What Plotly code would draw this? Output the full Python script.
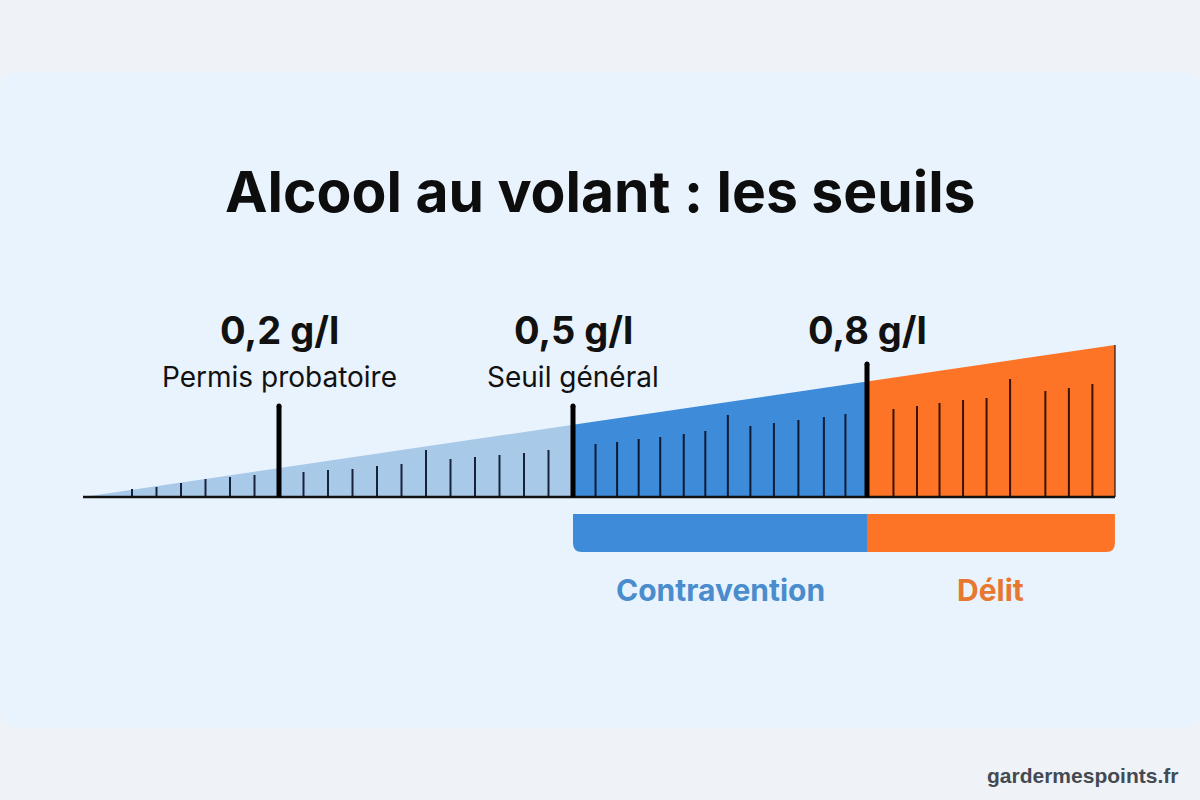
import plotly.graph_objects as go

# ---------------- data ----------------
title_text = "Alcool au volant : les seuils"
thresholds = [0.2, 0.5, 0.8]                       # g/l
threshold_labels = ["0,2 g/l", "0,5 g/l", "0,8 g/l"]
threshold_subtitles = ["Permis probatoire", "Seuil général", ""]
threshold_heights = [91, 91, 133]                 # marker height (scale units)

scale_start = 0.0
scale_end = 1.053                                  # end of the wedge (g/l)
wedge_end_height = 152                             # height of the wedge at its end

zone_bounds = [0.0, 0.5, 0.8, 1.053]
zone_colors = ["#a9c9e9", "#3d8bd9", "#fd7426"]

minor_ticks_light = [0.05, 0.075, 0.1, 0.125, 0.15, 0.175,
                     0.225, 0.25, 0.275, 0.3, 0.325, 0.35, 0.375, 0.4, 0.425, 0.45, 0.475]
minor_heights_light = [8, 10, 14, 18, 20, 22,
                       25, 27, 28, 31, 33, 47, 38, 40, 42, 44, 47]
minor_ticks_blue = [0.523, 0.545, 0.567, 0.589, 0.613, 0.635, 0.658, 0.681, 0.705, 0.730, 0.756, 0.778]
minor_heights_blue = [53, 55, 58, 60, 63, 66, 82, 71, 74, 77, 80, 83]
minor_ticks_orange = [0.827, 0.851, 0.874, 0.898, 0.922, 0.946, 0.982, 1.006, 1.030]
minor_heights_orange = [88, 91, 94, 97, 99, 118, 106, 109, 113]

categories = ["Contravention", "Délit"]
category_ranges = [(0.5, 0.8), (0.8, 1.053)]
category_colors = ["#3d8bd9", "#fd7426"]
category_text_colors = ["#4a8ccc", "#e8772f"]

watermark = "gardermespoints.fr"

# ---------------- figure ----------------
fig = go.Figure()

# wedge zones
for i in range(len(zone_bounds) - 1):
    x0, x1 = zone_bounds[i], zone_bounds[i + 1]
    h0 = wedge_end_height * (x0 - scale_start) / (scale_end - scale_start)
    h1 = wedge_end_height * (x1 - scale_start) / (scale_end - scale_start)
    fig.add_trace(go.Scatter(x=[x0, x1, x1, x0, x0], y=[0, 0, h1, h0, 0],
                             fill="toself", fillcolor=zone_colors[i],
                             line=dict(width=0), mode="lines", hoverinfo="skip"))

# right edge of the wedge
fig.add_trace(go.Scatter(x=[scale_end, scale_end], y=[0, wedge_end_height], mode="lines",
                         line=dict(color="#5a2a10", width=1.5), hoverinfo="skip"))


def tick_trace(xs, hs, color):
    X, Y = [], []
    for x, h in zip(xs, hs):
        X += [x, x, None]
        Y += [0, h, None]
    return go.Scatter(x=X, y=Y, mode="lines", line=dict(color=color, width=2), hoverinfo="skip")


fig.add_trace(tick_trace(minor_ticks_light, minor_heights_light, "#16223a"))
fig.add_trace(tick_trace(minor_ticks_blue, minor_heights_blue, "#0c1a36"))
fig.add_trace(tick_trace(minor_ticks_orange, minor_heights_orange, "#3a1306"))

# baseline
fig.add_trace(go.Scatter(x=[scale_start, scale_end], y=[0, 0], mode="lines",
                         line=dict(color="#111111", width=2.5), hoverinfo="skip"))

# threshold markers
for t, h in zip(thresholds, threshold_heights):
    fig.add_trace(go.Scatter(x=[t, t], y=[0, h], mode="lines",
                             line=dict(color="#000000", width=5), hoverinfo="skip"))
    fig.add_trace(go.Scatter(x=[t], y=[h], mode="markers",
                             marker=dict(color="#000000", size=5), hoverinfo="skip"))

# threshold labels
for t, lab, sub in zip(thresholds, threshold_labels, threshold_subtitles):
    fig.add_annotation(x=t, y=167, text="<b>" + lab + "</b>", showarrow=False,
                       font=dict(family="Inter", size=38, color="#111111"),
                       xanchor="center", yanchor="middle")
    if sub:
        fig.add_annotation(x=t, y=120, text=sub, showarrow=False,
                           font=dict(family="Inter", size=28, color="#111111"),
                           xanchor="center", yanchor="middle")

# category bars (rounded bottom outer corners)
shapes = []
bar_top, bar_bot = -17, -55
rx, ry = 0.009, 9
for k, ((a, b), col) in enumerate(zip(category_ranges, category_colors)):
    if k == 0:
        path = (f"M {a},{bar_top} L {b},{bar_top} L {b},{bar_bot} L {a + rx},{bar_bot} "
                f"Q {a},{bar_bot} {a},{bar_bot + ry} Z")
    else:
        path = (f"M {a},{bar_top} L {b},{bar_top} L {b},{bar_bot + ry} "
                f"Q {b},{bar_bot} {b - rx},{bar_bot} L {a},{bar_bot} Z")
    shapes.append(dict(type="path", xref="x", yref="y", path=path,
                       fillcolor=col, line=dict(width=0), layer="above"))
    fig.add_annotation(x=(a + b) / 2, y=-93, text="<b>" + categories[k] + "</b>",
                       showarrow=False, font=dict(family="Inter", size=30,
                                                  color=category_text_colors[k]),
                       xanchor="center", yanchor="middle")

# background panel (paper coords, rounded corners)
shapes.insert(0, dict(type="path", xref="paper", yref="paper", layer="below",
                      path="M 0,0.116 L 0,0.885 Q 0,0.91 0.015,0.91 L 0.985,0.91 "
                           "Q 1,0.91 1,0.885 L 1,0.116 Q 1,0.091 0.985,0.091 "
                           "L 0.015,0.091 Q 0,0.091 0,0.116 Z",
                      fillcolor="#e9f3fd", line=dict(width=0)))

fig.add_annotation(xref="paper", yref="paper", x=0.5, y=1 - 191 / 800,
                   text="<b>" + title_text + "</b>", showarrow=False,
                   font=dict(family="Inter", size=57, color="#0d0d0d"),
                   xanchor="center", yanchor="middle")
fig.add_annotation(xref="paper", yref="paper", x=1 - 20 / 1200, y=1 - 775 / 800,
                   text="<b>" + watermark + "</b>", showarrow=False,
                   font=dict(family="Liberation Sans", size=21, color="#444a52"),
                   xanchor="right", yanchor="middle")

x_scale = 980.0   # px per g/l
x_origin = 83.0   # px of 0 g/l
fig.update_layout(
    width=1200, height=800, margin=dict(l=0, r=0, t=0, b=0),
    paper_bgcolor="#eff3f8", plot_bgcolor="rgba(0,0,0,0)",
    showlegend=False, shapes=shapes,
    xaxis=dict(range=[-x_origin / x_scale, (1200 - x_origin) / x_scale], visible=False,
               fixedrange=True),
    yaxis=dict(range=[497 - 800, 497], visible=False, fixedrange=True),
)

fig.write_html("out.html")
